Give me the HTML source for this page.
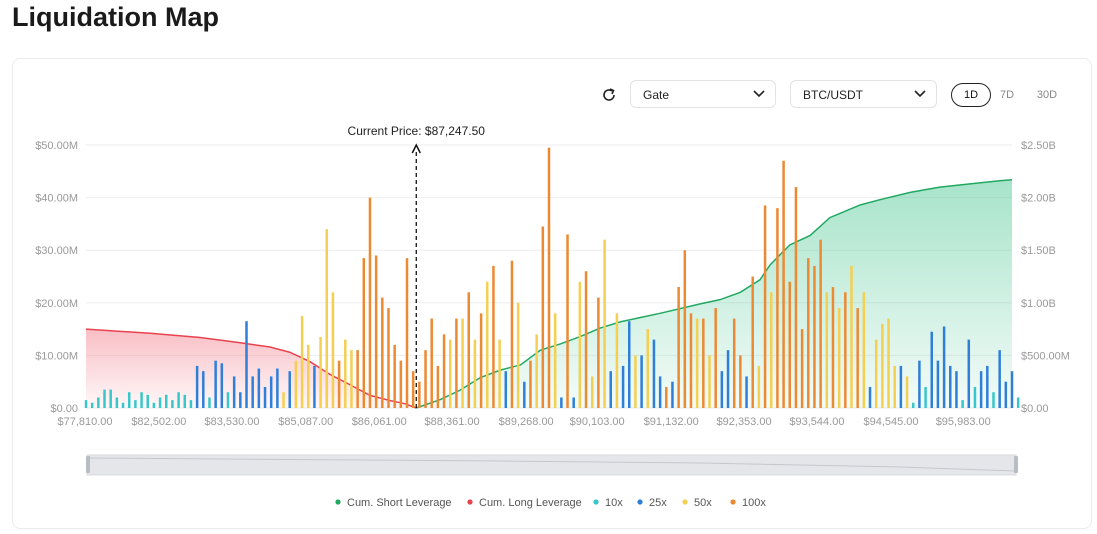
<!DOCTYPE html>
<html><head><meta charset="utf-8">
<style>
body{margin:0;background:#fff;font-family:"Liberation Sans",sans-serif;width:1097px;height:534px;overflow:hidden;position:relative}
.title{position:absolute;left:12px;top:2px;font-size:27px;font-weight:bold;color:#1a1a1a}
.card{position:absolute;left:12px;top:58px;width:1078px;height:469px;border:1px solid #ececec;border-radius:8px}
.sel{position:absolute;top:80px;height:28px;border:1px solid #e3e3e3;border-radius:6px;font-size:12px;color:#222;line-height:28px;padding-left:12px;box-sizing:border-box}
.sel svg{position:absolute;right:10px;top:9px}
.pill{position:absolute;top:83px;font-size:11px;color:#888;line-height:24px;text-align:center}
</style></head><body>
<div class="title">Liquidation Map</div>
<div class="card"></div>
<svg style="position:absolute;left:601px;top:87px" width="16" height="16"><path d="M13 8 A5 5 0 1 1 11 4" fill="none" stroke="#222" stroke-width="1.6"/><path d="M9 2 L12.5 3.5 L11 7" fill="none" stroke="#222" stroke-width="1.6"/></svg>
<div class="sel" style="left:630px;width:146px">Gate<svg width="12" height="8"><path d="M1 1 L6 6 L11 1" fill="none" stroke="#222" stroke-width="1.6"/></svg></div>
<div class="sel" style="left:790px;width:147px">BTC/USDT<svg width="12" height="8"><path d="M1 1 L6 6 L11 1" fill="none" stroke="#222" stroke-width="1.6"/></svg></div>
<div class="pill" style="left:951px;width:38px;height:22px;border:1px solid #222;border-radius:12px;color:#111;line-height:22px">1D</div>
<div class="pill" style="left:995px;width:24px">7D</div>
<div class="pill" style="left:1034px;width:26px">30D</div>
<svg id="chart" width="1097" height="534" style="position:absolute;left:0;top:0">
<defs>
<linearGradient id="gr" x1="0" y1="0" x2="0" y2="1"><stop offset="0" stop-color="#f0707e" stop-opacity=".45"/><stop offset="1" stop-color="#f0707e" stop-opacity=".05"/></linearGradient>
<linearGradient id="gg" x1="0" y1="0" x2="0" y2="1"><stop offset="0" stop-color="#3cc28a" stop-opacity=".45"/><stop offset="1" stop-color="#3cc28a" stop-opacity=".06"/></linearGradient>
</defs>
</svg>
<script>
const barValues=[1.5,1,2,3.5,3.5,2,1,3,1.5,3,2.5,1,2,2.5,1.5,3,2.5,1.5,8,7,2,9,8.5,3,6,3,16.5,6,7.5,4,6,7.5,3,7,9,17.5,12,8,13.5,34,22,9,13,11,11,28.5,40,29,21,19,12,9,28.5,7,5,11,17,8,14,13,17,17,22,13,18,24,27,13,7,28,20,5,9,14,34.5,49.5,18,2,33,2,24,26,6,21,32,7,18,8,16.5,10,10,15,13,6,4,5,23,30,18,17,17,10,19,7,11,17,10,6,25,8,38.5,22,38,47,24,42,15,28.5,27,32,22,23,19,22,27,19,22,4,13,16,17,8,8,6,1,9,4,14.5,9,15.5,8,7,1.5,13,4,7,8,3,11,5,7,2];
const barLeverage=['10x','10x','10x','10x','10x','10x','10x','10x','10x','10x','10x','10x','10x','10x','10x','10x','10x','10x','25x','25x','10x','25x','25x','10x','25x','25x','25x','25x','25x','25x','25x','25x','50x','25x','50x','50x','50x','25x','50x','50x','50x','100x','50x','50x','100x','100x','100x','100x','100x','100x','100x','100x','100x','100x','100x','100x','100x','100x','100x','50x','100x','50x','100x','50x','100x','50x','100x','50x','25x','100x','50x','25x','100x','50x','100x','100x','50x','25x','100x','25x','50x','100x','50x','100x','50x','25x','50x','25x','25x','50x','25x','50x','25x','25x','100x','25x','100x','100x','100x','50x','100x','50x','100x','25x','25x','100x','100x','25x','100x','50x','100x','50x','100x','100x','100x','100x','100x','100x','100x','100x','50x','100x','50x','100x','50x','100x','50x','25x','50x','50x','50x','50x','25x','50x','10x','25x','10x','25x','25x','25x','25x','25x','10x','25x','10x','25x','25x','10x','25x','25x','25x','10x'];
const longCumIdx=[0,10.4,18.5,25,29.8,33,36.3,39.5,42.8,46,49.3,51.7,53.5];
const longCumVal=[0.75,0.71,0.67,0.62,0.58,0.53,0.44,0.32,0.22,0.12,0.07,0.04,0];
const shortCumIdx=[53.5,57.4,60.6,63.9,67.1,70.4,73.6,76.9,80.1,83.3,86.6,93,99.5,102.7,106,109.2,110.8,114,117.3,120.5,125.4,128.6,133.5,138.3,143.2,148,150];
const shortCumVal=[0,0.08,0.17,0.29,0.36,0.41,0.55,0.61,0.68,0.76,0.82,0.9,0.99,1.03,1.1,1.22,1.36,1.55,1.64,1.81,1.93,1.98,2.05,2.1,2.13,2.16,2.17];
const xTickIdx=[-0.16,11.8,23.65,35.6,47.5,59.3,71.3,82.8,94.8,106.6,118.4,130.4,142.1];
const xTickLabels=['$77,810.00','$82,502.00','$83,530.00','$85,087.00','$86,061.00','$88,361.00','$89,268.00','$90,103.00','$91,132.00','$92,353.00','$93,544.00','$94,545.00','$95,983.00'];
const leftTicks=['$0.00','$10.00M','$20.00M','$30.00M','$40.00M','$50.00M'];
const rightTicks=['$0.00','$500.00M','$1.00B','$1.50B','$2.00B','$2.50B'];
const currentPriceIdx=53.5;
const colors={'10x':'#38c7c9','25x':'#2f7fd8','50x':'#f4cf52','100x':'#ec8a33'};
const svg=document.getElementById('chart');const NS='http://www.w3.org/2000/svg';
const X0=86,X1=1012,Y0=408,Y1=145,N=150;
const xs=i=>X0+(X1-X0)*i/N;
const yL=v=>Y0-(Y0-Y1)*v/50;
const yR=v=>Y0-(Y0-Y1)*v/2.5;
function mk(t,a,p){const e=document.createElementNS(NS,t);for(const k in a)e.setAttribute(k,a[k]);(p||svg).appendChild(e);return e;}
for(let k=0;k<6;k++){const y=Y0-(Y0-Y1)*k/5;
 const g=mk('line',{x1:X0,x2:X1,y1:y,y2:y,stroke:'#eeeeee'});
 const t=mk('text',{x:78,y:y+4,'text-anchor':'end','font-size':11,fill:'#999'});t.textContent=leftTicks[k];
 const r=mk('text',{x:1021,y:y+4,'font-size':11,fill:'#999'});r.textContent=rightTicks[k];}
function area(idx,val,fill,line,name){let d='';idx.forEach((i,k)=>{d+=(k?'L':'M')+xs(i)+' '+yR(val[k]);});
 const a=mk('path',{d:d+'L'+xs(idx[idx.length-1])+' '+Y0+'L'+xs(idx[0])+' '+Y0+'Z',fill:fill});
 const l=mk('path',{d:d,fill:'none',stroke:line,'stroke-width':1.5});}
area(longCumIdx,longCumVal,'url(#gr)','#e8424f','cum-long');
area(shortCumIdx,shortCumVal,'url(#gg)','#22a861','cum-short');
barValues.forEach((v,i)=>{const b=mk('rect',{x:xs(i)-1.25,y:yL(v),width:2.5,height:Y0-yL(v),fill:colors[barLeverage[i]]});
 });
xTickIdx.forEach((i,k)=>{const t=mk('text',{x:xs(i),y:425,'text-anchor':'middle','font-size':11,fill:'#999'});t.textContent=xTickLabels[k];});
const cx=xs(currentPriceIdx);
const dl=mk('line',{x1:cx,x2:cx,y1:Y0,y2:150,stroke:'#111','stroke-width':1.3,'stroke-dasharray':'4 3'});
const ar=mk('path',{d:`M${cx-4} 153 L${cx} 145 L${cx+4} 153`,fill:'none',stroke:'#111','stroke-width':1.5});
const ct=mk('text',{x:cx,y:135,'text-anchor':'middle','font-size':12,fill:'#222'});ct.textContent='Current Price: $87,247.50';
const sl=mk('rect',{x:87,y:455,width:929,height:20,fill:'#e4e6ea',stroke:'#d8dade'});
const sp=mk('path',{d:'M88 458 L500 461 L700 463 L900 467 L1015 471',fill:'none',stroke:'#c4c7cc'});
[86,1014].forEach(x=>{const h=mk('rect',{x:x,y:456,width:4,height:17,rx:1,fill:'#b9bcc2'});});
const leg=[['Cum. Short Leverage','#22a861',338],['Cum. Long Leverage','#e8424f',470],['10x','#38c7c9',596],['25x','#2f7fd8',640],['50x','#f4cf52',685],['100x','#ec8a33',733]];
leg.forEach(l=>{const g=mk('g',{});
 mk('circle',{cx:l[2],cy:502,r:2.6,fill:l[1]},g);const t=mk('text',{x:l[2]+9,y:506,'font-size':11,fill:'#555'},g);t.textContent=l[0];});
</script>
</body></html>
